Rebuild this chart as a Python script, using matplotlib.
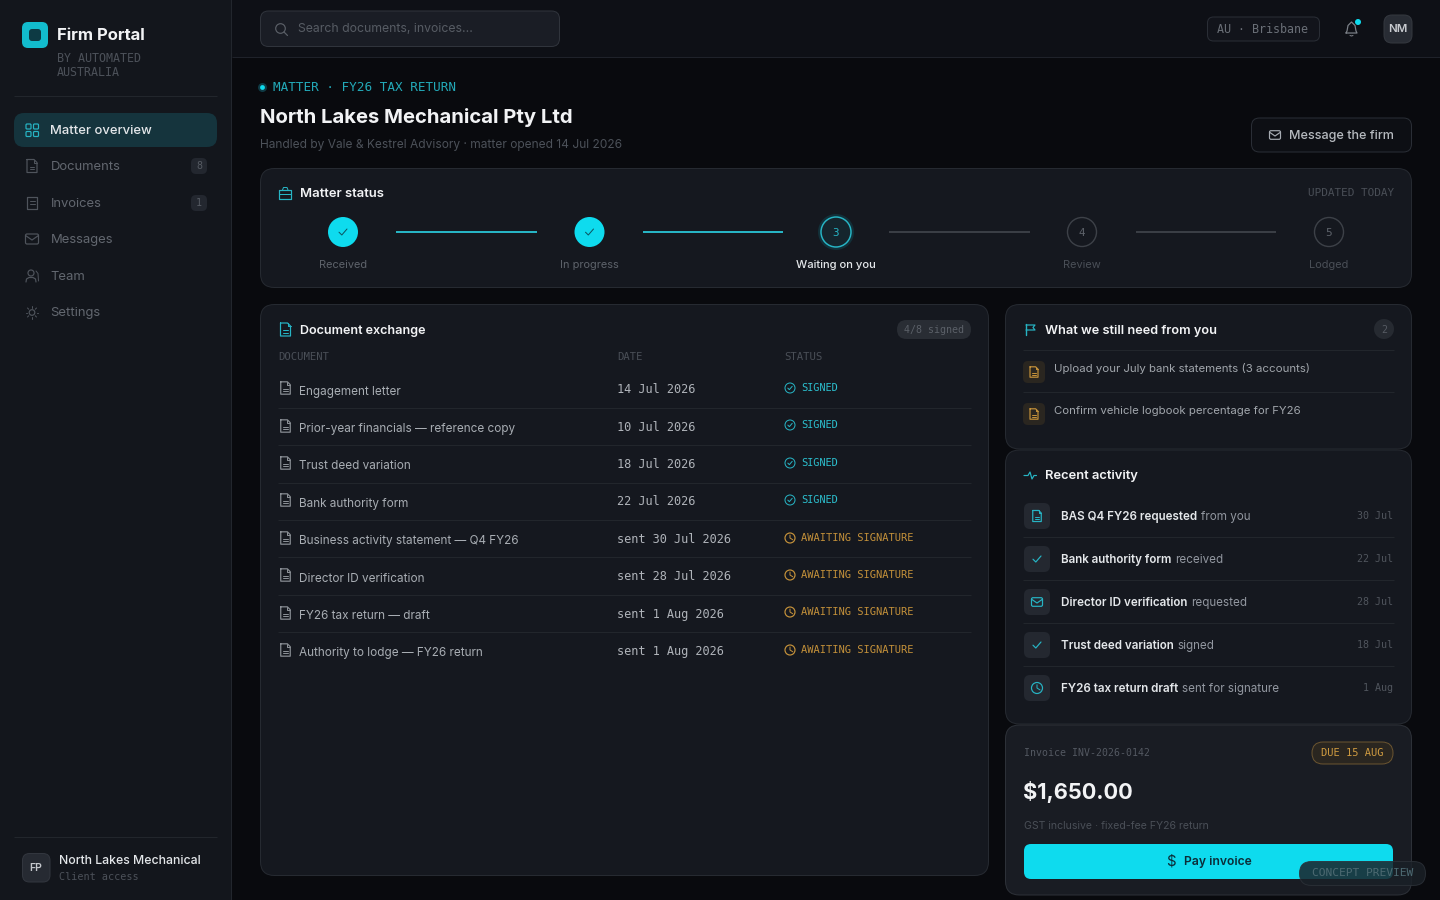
import matplotlib
matplotlib.use("Agg")
import matplotlib.pyplot as plt
from matplotlib.patches import FancyBboxPatch, Circle, Rectangle
import numpy as np

# ---------- content ----------
NAV_ITEMS = ["Matter overview", "Documents", "Invoices", "Messages", "Team", "Settings"]
NAV_BADGES = {"Documents": "8", "Invoices": "1"}
STEPS = ["Received", "In progress", "Waiting on you", "Review", "Lodged"]
DOC_NAMES = ["Engagement letter", "Prior-year financials — reference copy", "Trust deed variation",
             "Bank authority form", "Business activity statement — Q4 FY26", "Director ID verification",
             "FY26 tax return — draft", "Authority to lodge — FY26 return"]
DOC_DATES = ["14 Jul 2026", "10 Jul 2026", "18 Jul 2026", "22 Jul 2026", "sent 30 Jul 2026",
             "sent 28 Jul 2026", "sent 1 Aug 2026", "sent 1 Aug 2026"]
DOC_STATUS = ["SIGNED"] * 4 + ["AWAITING SIGNATURE"] * 4
NEEDS = ["Upload your July bank statements (3 accounts)", "Confirm vehicle logbook percentage for FY26"]
ACT_BOLD = ["BAS Q4 FY26 requested", "Bank authority form", "Director ID verification",
            "Trust deed variation", "FY26 tax return draft"]
ACT_REST = ["from you", "received", "requested", "signed", "sent for signature"]
ACT_DATE = ["30 Jul", "22 Jul", "28 Jul", "18 Jul", "1 Aug"]
ACT_ICON = ["doc", "check", "mail", "check", "clock"]

# ---------- palette ----------
BG = "#090a0e"; SIDE = "#13161c"; TOP = "#0e1016"; CARD = "#15181f"; CARD2 = "#191c23"
BORDER = "#262a31"; DIV = "#22262c"; CYAN = "#0edbee"; TEAL = "#27b4c4"; AMBER = "#c4913a"
WHITE = "#f2f3f5"; GREY = "#a6abb1"; DIM = "#5c6169"; FAINT = "#4a4f57"

SANS = ["Inter", "Noto Sans", "DejaVu Sans"]
MONO = ["DejaVu Sans Mono"]

fig = plt.figure(figsize=(14.4, 9), dpi=100, facecolor=BG)
ax = fig.add_axes([0, 0, 1, 1])
ax.set_xlim(0, 1440); ax.set_ylim(900, 0); ax.axis("off"); ax.set_autoscale_on(False)
R = fig.canvas.get_renderer()
PX = 0.72


def T(x, y, s, px=13, c=GREY, w="normal", mono=False, ha="left", fit=None, z=10, alpha=None):
    t = ax.text(x, y - 0.8, s, fontsize=px * PX, color=c, fontweight=w, family=MONO if mono else SANS,
                ha=ha, va="center_baseline", zorder=z, parse_math=False, alpha=alpha)
    if fit:
        cur = t.get_window_extent(R).width
        t.set_fontsize(px * PX * fit / cur)
    return t


def box(x0, y0, x1, y1, r=8, fc=CARD, ec=BORDER, lw=1, z=2, alpha=None):
    p = FancyBboxPatch((x0, y0), x1 - x0, y1 - y0, boxstyle=f"round,pad=0,rounding_size={r}",
                       fc=fc, ec=ec if ec else "none", lw=lw * PX, zorder=z, alpha=alpha)
    ax.add_patch(p)


def L(xs, ys, c=GREY, lw=1.2, z=6):
    ax.plot(xs, ys, color=c, lw=lw * PX, solid_capstyle="round", solid_joinstyle="round", zorder=z)


def circ(x, y, r, fc="none", ec="none", lw=1.2, z=5, alpha=None):
    ax.add_patch(Circle((x, y), r, fc=fc, ec=ec, lw=lw * PX, zorder=z, alpha=alpha))


def hline(x0, x1, y, c=DIV, lw=1, z=4):
    ax.plot([x0, x1], [y, y], color=c, lw=lw * PX, solid_capstyle="butt", zorder=z)


def doc_icon(x, y, c, s=1.0, z=6):
    a, b, f = 5 * s, 6.5 * s, 3 * s
    L([x - a, x + a - f, x + a, x + a, x - a, x - a], [y - b, y - b, y - b + f, y + b, y + b, y - b], c, z=z)
    L([x + a - f, x + a - f, x + a], [y - b, y - b + f, y - b + f], c, lw=1, z=z)
    L([x - 2.2 * s, x + 2.2 * s], [y + 0.8 * s] * 2, c, lw=1, z=z)
    L([x - 2.2 * s, x + 2.2 * s], [y + 3.2 * s] * 2, c, lw=1, z=z)


def check(x, y, c, s=1.0, lw=1.2, z=6):
    L([x - 4 * s, x - 1.2 * s, x + 4 * s], [y + 0.2 * s, y + 3 * s, y - 3 * s], c, lw=lw, z=z)


def mail(x, y, c, a=6.5, b=5, z=6):
    box(x - a, y - b, x + a, y + b, r=1.5, fc="none", ec=c, lw=1.2, z=z)
    L([x - a, x, x + a], [y - b + 1.5, y + 1, y - b + 1.5], c, z=z)


def clock(x, y, c, r=5, z=6):
    circ(x, y, r, ec=c, z=z)
    L([x, x, x + 0.55 * r], [y - 0.6 * r, y, y + 0.35 * r], c, lw=1, z=z)


def check_circle(x, y, c, r=5, z=6):
    circ(x, y, r, ec=c, lw=1, z=z)
    check(x, y, c, s=0.55, lw=1, z=z)


# ---------- sidebar ----------
ax.add_patch(Rectangle((0, 0), 231, 900, fc=SIDE, ec="none", zorder=1))
ax.plot([231, 231], [0, 900], color="#22262d", lw=PX, zorder=3)
ax.add_patch(FancyBboxPatch((22, 22), 26, 26, boxstyle="round,pad=0,rounding_size=6", fc="#12bccd", ec="none", zorder=4))
box(29, 29, 41, 41, r=3, fc="#0d3a44", ec=None, z=5)
T(57, 34.5, "Firm Portal", 17, WHITE, "bold", fit=88)
T(57, 57.5, "BY AUTOMATED", 10, "#4c5159", mono=True, fit=84)
T(57, 71.5, "AUSTRALIA", 10, "#4c5159", mono=True, fit=63)
hline(14, 217, 96)
box(14, 113, 217, 147, r=10, fc="#15343d", ec=None, z=3)
nav_y = [130, 166, 203, 239, 276, 312]
for name, y in zip(NAV_ITEMS, nav_y):
    active = name == "Matter overview"
    T(50.5, y, name, 13, "#e4e7ea" if active else "#62676f", "medium" if active else "normal")
    if name in NAV_BADGES:
        box(191, y - 8, 207, y + 8, r=5, fc="#23272f", ec=None, z=3)
        T(199, y, NAV_BADGES[name], 10, "#565b63", mono=True, ha="center")
ic = "#4f545c"
for dx in (-6, 1.5):
    for dy in (-6, 1.5):
        box(32 + dx, 130 + dy, 32 + dx + 5, 130 + dy + 5, r=1, fc="none", ec=TEAL, lw=1.2, z=6)
doc_icon(32, 166, ic)
L([27, 37, 37, 27, 27], [197, 197, 209, 209, 197], ic)
L([29.5, 34.5], [200.5, 200.5], ic, lw=1); L([29.5, 34.5], [203.5, 203.5], ic, lw=1)
mail(32, 239, ic)
circ(31, 273, 3, ec=ic)
L([26, 26.5, 29, 33, 35.5, 36], [282, 279, 277.5, 277.5, 279, 282], ic)
L([36, 38, 38.5], [271, 273.5, 281], ic, lw=1)
circ(32, 312.5, 2.8, ec=ic)
for a in np.arange(0, 360, 45):
    ca, sa = np.cos(np.radians(a)), np.sin(np.radians(a))
    L([32 + 4.6 * ca, 32 + 6.4 * ca], [312.5 + 4.6 * sa, 312.5 + 6.4 * sa], ic, lw=1)
hline(14, 217, 837)
box(22.5, 853.5, 50, 882, r=7, fc="#262a32", ec="#32363e", z=3)
T(36, 868, "FP", 10.5, "#c4c7cc", "semibold", ha="center")
T(59, 860.5, "North Lakes Mechanical", 13, "#e4e7ea", "medium", fit=142)
T(59, 876.5, "Client access", 10, "#4c5159", mono=True, fit=79)

# ---------- top bar ----------
ax.add_patch(Rectangle((231.5, 0), 1208.5, 57, fc=TOP, ec="none", zorder=1))
hline(232, 1440, 57, "#1f222a")
box(260.5, 11, 559.5, 46.5, r=8, fc="#1a1d25", ec="#30343c", z=3)
circ(280.5, 28.5, 4.8, ec="#5a5f67", z=6)
L([284, 287.5], [32, 35.5], "#5a5f67")
T(298, 28.5, "Search documents, invoices...", 13, "#575c64", fit=174)
box(1207.5, 17, 1319.5, 41, r=6, fc="#12141b", ec="#2a2e36", z=3)
T(1217, 29, "AU · Brisbane", 10.5, "#6a6f77", mono=True, fit=92)
bc = "#7d8289"
L([1346, 1347, 1348, 1351.5, 1355, 1356, 1357, 1346], [33, 31, 25.5, 22, 25.5, 31, 33, 33], bc)
L([1350, 1351.5, 1353], [35.5, 36, 35.5], bc, lw=1)
circ(1358, 22, 3, fc=CYAN, z=7)
box(1384, 15, 1412, 43, r=8, fc="#282c34", ec="#34383f", z=3)
T(1398, 29, "NM", 11.5, "#c8cbd0", "semibold", ha="center")

# ---------- page header ----------
circ(262.5, 87.5, 4.5, fc="#0f3a44", z=4)
circ(262.5, 87.5, 2.4, fc=CYAN, z=5)
T(273, 87, "MATTER · FY26 TAX RETURN", 10, "#23aab9", mono=True, fit=182)
T(260, 116.5, "North Lakes Mechanical Pty Ltd", 22, WHITE, "bold", fit=314)
T(260, 144.5, "Handled by Vale & Kestrel Advisory · matter opened 14 Jul 2026", 13, "#4c5159", fit=361)
box(1251.5, 118, 1411.5, 152, r=8, fc="#0d0f14", ec="#2a2e36", z=3)
mail(1275, 135, "#a6abb1", a=5.5, b=4.3)
T(1289, 135, "Message the firm", 13, "#b6babf", "medium", fit=105)

# ---------- matter status ----------
box(260.5, 168.5, 1411.5, 287.5, r=14)
L([279, 291, 291, 279, 279], [190, 190, 198.5, 198.5, 190], TEAL)
L([282.5, 283.5, 287, 288], [190, 187.5, 187.5, 190], TEAL, lw=1)
L([279, 291], [194, 194], TEAL, lw=1)
T(300, 193, "Matter status", 13, WHITE, "semibold", fit=84)
T(1394, 193, "UPDATED TODAY", 10, "#4a4f57", mono=True, ha="right", fit=86)
step_x = [343, 589.5, 836, 1082, 1329]
seg = [(396, 537, TEAL), (643, 783, TEAL), (889, 1030, "#3a3e45"), (1136, 1276, "#3a3e45")]
for a, b, c in seg:
    hline(a, b, 231.7, c, lw=2)
for i, (x, lab) in enumerate(zip(step_x, STEPS)):
    if i < 2:
        circ(x, 232, 15, fc=CYAN)
        check(x, 232, "#0c5561", s=1.0, lw=1)
        T(x, 264.5, lab, 11, "#5e636b", ha="center")
    elif i == 2:
        circ(x, 232, 18, fc="#123039", z=4)
        circ(x, 232, 15, fc="#15252d", ec=TEAL, lw=1.5)
        T(x, 232.5, "3", 11, TEAL, mono=True, ha="center")
        T(x, 264.5, lab, 11.5, "#e4e7ea", "medium", ha="center", fit=80)
    else:
        circ(x, 232, 14.5, fc=CARD, ec="#3d4148", lw=1.4)
        T(x, 232.5, str(i + 1), 11, "#5e636b", mono=True, ha="center")
        T(x, 264.5, lab, 11, "#4a4f57", ha="center")

# ---------- document exchange ----------
box(260.5, 304.5, 988.5, 875.5, r=14)
doc_icon(285.5, 329.5, TEAL)
T(300, 330, "Document exchange", 13, WHITE, "semibold", fit=127)
box(897, 320, 971, 339, r=9.5, fc="#292d34", ec=None, z=3)
T(934, 329.5, "4/8 signed", 10, "#5b6068", mono=True, ha="center", fit=60)
T(278, 357, "DOCUMENT", 9, "#4a4f57", mono=True, fit=50)
T(617, 357, "DATE", 9, "#4a4f57", mono=True, fit=25)
T(784, 357, "STATUS", 9, "#4a4f57", mono=True, fit=38)
name_y = [391, 428, 465, 503, 540, 578, 615, 652]
date_y = [389, 427, 464, 501, 539, 576, 614, 651]
stat_y = [388, 425, 463, 500, 538, 575, 612, 650]
row_sep = [408, 445, 483, 520, 557, 595, 632]
for n, d, s, ny, dy, sy in zip(DOC_NAMES, DOC_DATES, DOC_STATUS, name_y, date_y, stat_y):
    doc_icon(285.5, dy - 1, "#8b9096", s=0.95)
    T(299, ny, n, 11.75, "#a8adb3")
    T(617, dy, d, 12, "#b0b4ba", mono=True, fit=7.2 * len(d))
    if s == "SIGNED":
        check_circle(790, sy, TEAL)
        T(801, sy, s, 9.5, "#2cc0cf", mono=True, fit=37.5)
    else:
        clock(790, sy, AMBER)
        T(801, sy, s, 9.5, AMBER, mono=True, fit=113)
for y in row_sep:
    hline(278, 971, y)

# ---------- what we still need ----------
box(1005.5, 304.5, 1411.5, 449, r=14)
L([1026, 1026], [324, 335], TEAL, lw=1.4)
L([1026, 1035, 1033, 1035, 1026], [325, 325, 327.5, 330, 330], TEAL)
T(1045, 330, "What we still need from you", 13, WHITE, "semibold", fit=172)
circ(1384, 329, 10, fc="#262a31")
T(1384, 329.5, "2", 10, "#565b63", mono=True, ha="center")
hline(1023, 1394, 350)
hline(1023, 1394, 392)
for n, by in zip(NEEDS, [361, 403]):
    box(1023, by, 1045, by + 22, r=5, fc="#2a2620", ec=None, z=3)
    doc_icon(1034, by + 11, AMBER, s=0.8)
    T(1054.5, by + 7.5, n, 12.3, "#a1a6ac", fit=(257 if "Upload" in n else 247.5))

# ---------- recent activity ----------
box(1005.5, 450, 1411.5, 724, r=14)
L([1024, 1028, 1030, 1032, 1034, 1036.5], [475.5, 475.5, 472, 479, 475.5, 475.5], TEAL)
T(1045, 475.5, "Recent activity", 13, WHITE, "semibold", fit=93)
act_y = [516, 559, 602, 645, 688]
for b, r_, d, ico, y in zip(ACT_BOLD, ACT_REST, ACT_DATE, ACT_ICON, act_y):
    box(1024, y - 13, 1050, y + 13, r=6, fc="#242830", ec=None, z=3)
    if ico == "doc":
        doc_icon(1037, y, TEAL, s=0.85)
    elif ico == "check":
        check(1037, y, TEAL, s=1.0)
    elif ico == "mail":
        mail(1037, y, TEAL, a=5.5, b=4.3)
    else:
        clock(1037, y, TEAL, r=5.5)
    t = T(1061, y + 0.5, b, 11.63, "#e4e7ea", "semibold")
    x2 = 1061 + t.get_window_extent(R).width + 3.5
    T(x2, y + 0.5, r_, 11.63, "#9297a0")
    T(1393, y, d, 10, "#50555d", mono=True, ha="right", fit=6 * len(d))
for y in [537, 580, 623, 666]:
    hline(1023, 1394, y)

# ---------- invoice ----------
box(1005.5, 725, 1411.5, 895, r=14, fc=CARD2, ec="#2d3138")
T(1024, 752.5, "Invoice INV-2026-0142", 10, "#545962", mono=True, fit=125)
box(1312, 742, 1393, 764, r=11, fc="#2a2620", ec="#6a5430", z=3)
T(1352.5, 753, "DUE 15 AUG", 10.5, "#cf9b40", mono=True, ha="center", fit=63)
T(1023, 790.5, "$1,650.00", 25, WHITE, "bold", fit=110)
T(1024, 825.5, "GST inclusive · fixed-fee FY26 return", 11, "#4a4f57", fit=185)
box(1024, 844, 1393, 879, r=7, fc=CYAN, ec=None, z=3)
T(1170.5, 861, "$", 15, "#0b2d38", ha="center", z=6)
T(1184.5, 861.5, "Pay invoice", 13, "#0b2d38", "semibold", fit=68, z=6)

# ---------- concept preview pill ----------
box(1299.5, 861.5, 1425.5, 885.5, r=12, fc="#1a2027", ec="#2c3138", z=8, alpha=0.84)
T(1362.5, 873, "CONCEPT PREVIEW", 9.5, "#4d6a72", mono=True, ha="center", fit=102, z=9)

fig.savefig("out.png", dpi=100, facecolor=BG)
